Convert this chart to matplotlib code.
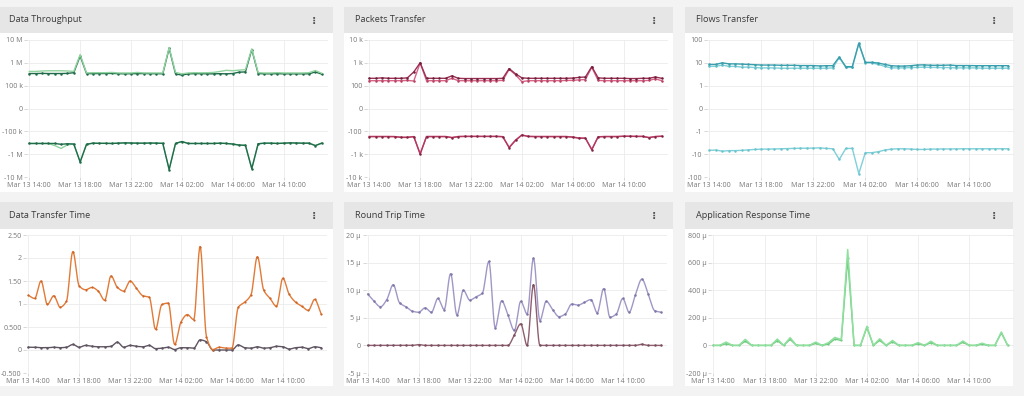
import numpy as np
import matplotlib
matplotlib.use("Agg")
import matplotlib.pyplot as plt
import matplotlib.dates as mdates
from matplotlib.patches import Rectangle
import pandas as pd

# ---------------- data ----------------
times = pd.date_range("2024-03-13 14:00", periods=47, freq="30min")
tick_times = pd.date_range("2024-03-13 14:00", periods=6, freq="4h")
tick_labels = [t.strftime("%b %d %H:%M") for t in tick_times]

panel_titles = ["Data Throughput", "Packets Transfer", "Flows Transfer",
                "Data Transfer Time", "Round Trip Time", "Application Response Time"]

# Data Throughput (bytes/s)
thr_in_light = [420e3, 420e3, 440e3, 450e3, 450e3, 450e3, 440e3, 420e3, 2.3e6, 360e3, 370e3, 370e3,
                370e3, 380e3, 360e3, 360e3, 360e3, 380e3, 360e3, 360e3, 360e3, 360e3, 4.7e6, 380e3,
                330e3, 360e3, 370e3, 365e3, 370e3, 380e3, 420e3, 470e3, 450e3, 480e3, 500e3, 4.1e6,
                370e3, 360e3, 360e3, 370e3, 360e3, 360e3, 360e3, 360e3, 370e3, 460e3, 350e3]
thr_in_dark = [340e3, 340e3, 345e3, 340e3, 340e3, 340e3, 345e3, 370e3, 2.0e6, 340e3, 335e3, 340e3,
               340e3, 345e3, 335e3, 330e3, 335e3, 335e3, 340e3, 335e3, 335e3, 330e3, 4.3e6, 330e3,
               290e3, 330e3, 335e3, 335e3, 330e3, 330e3, 335e3, 330e3, 340e3, 390e3, 400e3, 3.8e6,
               340e3, 330e3, 330e3, 335e3, 330e3, 330e3, 330e3, 330e3, 330e3, 400e3, 320e3]
thr_out_light = [-340e3, -340e3, -340e3, -340e3, -420e3, -560e3, -390e3, -360e3, -2.2e6, -370e3, -330e3, -335e3,
                 -335e3, -340e3, -330e3, -320e3, -325e3, -330e3, -330e3, -325e3, -330e3, -335e3, -4.7e6, -340e3,
                 -280e3, -340e3, -340e3, -340e3, -340e3, -340e3, -330e3, -340e3, -360e3, -400e3, -410e3, -4.3e6,
                 -350e3, -330e3, -330e3, -340e3, -330e3, -320e3, -325e3, -330e3, -330e3, -420e3, -330e3]
thr_out_dark = [-340e3, -340e3, -340e3, -340e3, -340e3, -370e3, -350e3, -360e3, -2.2e6, -370e3, -330e3, -335e3,
                -335e3, -340e3, -330e3, -320e3, -325e3, -330e3, -330e3, -325e3, -330e3, -335e3, -4.7e6, -340e3,
                -280e3, -340e3, -340e3, -340e3, -340e3, -340e3, -330e3, -340e3, -360e3, -400e3, -410e3, -4.3e6,
                -350e3, -330e3, -330e3, -340e3, -330e3, -320e3, -325e3, -330e3, -330e3, -420e3, -330e3]

# Packets Transfer
pkt_in_dark = [210, 210, 220, 210, 210, 210, 220, 400, 1000, 210, 210, 210, 210, 270, 210, 205,
               205, 205, 205, 205, 205, 210, 560, 330, 220, 210, 210, 210, 210, 210, 210, 210,
               215, 230, 240, 680, 220, 210, 210, 210, 210, 205, 205, 210, 210, 240, 210]
pkt_in_light = [165, 165, 165, 165, 165, 165, 170, 160, 1000, 165, 165, 165, 165, 210, 165, 165,
                165, 165, 165, 165, 165, 170, 520, 300, 150, 165, 165, 165, 165, 165, 165, 170,
                170, 180, 185, 640, 170, 165, 165, 165, 165, 165, 165, 165, 170, 200, 165]
pkt_out_dark = [-170, -170, -170, -170, -170, -185, -185, -170, -1000, -170, -170, -170, -170, -190, -170, -168,
                -168, -168, -168, -168, -168, -172, -520, -250, -145, -168, -170, -170, -170, -170, -170, -170,
                -180, -200, -200, -640, -175, -170, -170, -170, -165, -165, -168, -168, -190, -170, -165]
pkt_out_light = [-168, -168, -168, -168, -170, -180, -180, -170, -950, -168, -168, -168, -168, -185, -168, -165,
                 -165, -165, -165, -165, -165, -170, -500, -240, -145, -165, -168, -168, -168, -168, -168, -168,
                 -178, -195, -198, -620, -172, -168, -168, -168, -163, -163, -165, -165, -185, -168, -163]

# Flows Transfer
flw_in_dark = [8.5, 8.5, 10, 9, 9, 8.8, 8.5, 8.3, 8, 8, 8, 7.8, 7.8, 7.8, 7.6, 7.6,
               7.6, 7.3, 7.5, 7.5, 18, 6.8, 6.8, 72, 10.5, 10.5, 9.8, 8.5, 7.5, 7.2, 7.2, 7.5,
               8, 8.2, 7.8, 7.8, 7.8, 8, 7.6, 7.6, 7.6, 7.5, 7.5, 7.5, 7.5, 7.5, 7.5]
flw_in_light = [7, 7, 8, 7, 7, 6.5, 6.5, 6.2, 6, 6, 6, 5.8, 5.8, 5.8, 5.8, 5.8,
                5.8, 5.8, 5.8, 6, 17, 6.3, 6.3, 70, 10, 10, 8.5, 7, 6, 6, 6, 6.2,
                6.3, 6.5, 6.3, 6.3, 6.2, 6.2, 6.0, 6.0, 6, 6, 5.8, 5.8, 5.8, 5.8, 5.8]
flw_out = [-6.8, -6.6, -7.4, -7, -7, -6.8, -6.5, -6.2, -6, -6, -5.9, -5.8, -5.7, -5.6, -5.5, -5.5,
           -5.4, -5.3, -5.6, -5.8, -17, -5.6, -5.6, -71, -8.6, -8.6, -7.8, -6.6, -6.0, -5.8, -5.8, -6.0,
           -6.2, -6.2, -6.0, -6.0, -5.9, -5.9, -5.9, -5.8, -5.8, -5.8, -5.8, -5.8, -5.8, -5.8, -5.8]

# Data Transfer Time (s)
dtt_main = [1.19, 1.12, 1.50, 0.99, 1.18, 0.93, 1.06, 2.14, 1.39, 1.31, 1.36, 1.28, 1.08, 1.61, 1.36, 1.28,
            1.50, 1.34, 1.18, 1.15, 0.45, 0.99, 1.02, 0.12, 0.61, 0.77, 0.66, 2.25, 0.29, 0.01, 0.06, 0.04,
            0.04, 0.93, 1.04, 1.20, 2.03, 1.30, 1.12, 0.95, 1.56, 1.21, 1.04, 0.95, 0.86, 1.10, 0.79]
dtt_base = [0.06, 0.06, 0.05, 0.05, 0.06, 0.05, 0.06, 0.12, 0.06, 0.10, 0.08, 0.07, 0.07, 0.08, 0.17, 0.06,
            0.10, 0.08, 0.07, 0.10, 0.03, 0.04, 0.06, 0.01, 0.05, 0.05, 0.04, 0.22, 0.18, 0.0, 0.0, 0.0,
            0.0, 0.11, 0.05, 0.04, 0.07, 0.04, 0.05, 0.08, 0.07, 0.02, 0.05, 0.06, 0.03, 0.07, 0.05]

# Round Trip Time (µs)
rtt_main = [9.3, 8.0, 7.0, 8.3, 11.0, 7.7, 7.0, 6.2, 6.0, 6.8, 6.0, 8.5, 6.5, 13.0, 5.5, 10.0,
            8.2, 8.8, 9.5, 15.2, 3.2, 8.1, 5.5, 2.7, 8.0, 5.7, 15.8, 4.5, 8.0, 6.5, 5.2, 5.7,
            7.5, 7.3, 7.8, 8.3, 5.9, 10.3, 5.1, 5.7, 8.5, 6.0, 9.2, 12.0, 9.3, 6.3, 6.0]
rtt_base = [0, 0, 0, 0, 0, 0, 0, 0, 0.15, 0, 0, 0, 0, 0, 0, 0,
            0, 0, 0, 0, 0, 0, 0, 1.9, 3.9, 0, 11.0, 0, 0, 0, 0, 0,
            0, 0, 0, 0, 0, 0, 0, 0, 0, 0, 0, 0.2, 0, 0, 0]

# Application Response Time (µs)
art_light = [0, 0, 24, 0, 0, 44, 0, 0, 0, 0, 46, 0, 56, 0, 0, 0,
             24, 0, 20, 58, 42, 695, 0, 0, 138, 0, 48, 0, 36, 0, 0, 0,
             20, 0, 30, 0, 0, 0, 0, 32, 0, 0, 16, 0, 0, 97, 0]
art_dark = [0, 0, 12, 0, 0, 30, 0, 0, 0, 0, 34, 0, 44, 0, 0, 0,
            14, 0, 10, 46, 36, 630, 0, 0, 130, 0, 36, 0, 26, 0, 0, 0,
            12, 0, 20, 0, 0, 0, 0, 22, 0, 0, 8, 0, 0, 90, 0]

# ---------------- layout helpers ----------------
W, H = 1024, 396
fig = plt.figure(figsize=(W / 100, H / 100), dpi=100)
fig.patch.set_facecolor("#f3f3f3")

FONT = ["Open Sans", "DejaVu Sans"]


def frect(x0, y0, x1, y1):
    return [x0 / W, 1 - y1 / H, (x1 - x0) / W, (y1 - y0) / H]


def panel(x0, x1, yh0, yh1, yb1, title):
    fig.add_artist(Rectangle((x0 / W, 1 - yb1 / H), (x1 - x0) / W, (yb1 - yh1) / H,
                             transform=fig.transFigure, facecolor="white", edgecolor="none", zorder=0))
    fig.add_artist(Rectangle((x0 / W, 1 - yh1 / H), (x1 - x0) / W, (yh1 - yh0) / H,
                             transform=fig.transFigure, facecolor="#e6e6e6", edgecolor="none", zorder=0))
    fig.text((x0 + 11) / W, 1 - ((yh0 + yh1) / 2) / H, title, family=FONT, fontsize=6.6,
             color="#3a3a3a", va="center", ha="left")
    fig.text((x1 - 19) / W, 1 - ((yh0 + yh1) / 2 + 0.5) / H, "\u22ee", family=["DejaVu Sans"],
             fontsize=7.5, fontweight="bold", color="#555555", va="center", ha="center")


def smooth(y, n=10):
    y = np.asarray(y, float)
    x = np.arange(len(y), dtype=float)
    d = np.diff(y)
    m = np.zeros_like(y)
    m[0], m[-1] = d[0], d[-1]
    for i in range(1, len(y) - 1):
        if d[i - 1] * d[i] <= 0:
            m[i] = 0.0
        else:
            m[i] = 2.0 / (1.0 / d[i - 1] + 1.0 / d[i])
    xs, ys = [], []
    t = np.linspace(0, 1, n, endpoint=False)
    h00 = 2 * t**3 - 3 * t**2 + 1
    h10 = t**3 - 2 * t**2 + t
    h01 = -2 * t**3 + 3 * t**2
    h11 = t**3 - t**2
    for i in range(len(d)):
        xs.append(x[i] + t)
        ys.append(h00 * y[i] + h10 * m[i] + h01 * y[i + 1] + h11 * m[i + 1])
    xs.append([x[-1]])
    ys.append([y[-1]])
    return np.concatenate(xs), np.concatenate(ys)


tnum = mdates.date2num(times.to_pydatetime())
step = tnum[1] - tnum[0]


def make_axes(dl, dr, yt, yb):
    sp = (dr - dl) / 46.0
    l, r = dl - 2, dr + 6
    ax = fig.add_axes(frect(l, yt, r, yb))
    ax.set_facecolor("none")
    ax.set_xlim(tnum[0] - 2 / sp * step, tnum[-1] + 6 / sp * step)
    for s in ax.spines.values():
        s.set_visible(False)
    ax.set_xticks(mdates.date2num(tick_times.to_pydatetime()))
    ax.set_xticklabels(tick_labels)
    ax.grid(True, color="#ebebeb", linewidth=0.6)
    ax.set_axisbelow(True)
    ax.tick_params(axis="both", length=2.2, width=0.5, color="#c8c8c8", labelsize=5.1,
                   labelcolor="#777777", pad=1.2)
    for lab in ax.get_xticklabels() + ax.get_yticklabels():
        lab.set_family(FONT)
    return ax


def series(ax, y, color, lw=0.9, ms=1.8, mk=True, sm=False, z=2, mcolor=None):
    if sm:
        xs, ys = smooth(y)
        xs = tnum[0] + xs * step
    else:
        xs, ys = tnum, np.asarray(y, float)
    ax.plot(xs, ys, color=color, lw=lw, zorder=z, solid_joinstyle="round")
    if mk:
        ax.plot(tnum, y, "o", ms=ms, color=mcolor or color, mec="none", zorder=z)


def symlog_axis(ax, thresh, labels):
    ax.set_yscale("symlog", linthresh=thresh, linscale=0.9)
    vals = [-100 * thresh, -10 * thresh, -thresh, 0, thresh, 10 * thresh, 100 * thresh]
    ax.set_ylim(vals[0], vals[-1])
    ax.set_yticks(vals)
    ax.set_yticklabels(labels)
    ax.yaxis.set_minor_locator(matplotlib.ticker.NullLocator())
    for lab in ax.get_yticklabels():
        lab.set_family(FONT)


def lin_axis(ax, ticks, labels):
    ax.set_ylim(ticks[0], ticks[-1])
    ax.set_yticks(ticks)
    ax.set_yticklabels(labels)
    for lab in ax.get_yticklabels():
        lab.set_family(FONT)


# ---------------- panels ----------------
cols = [(-2, 333), (344, 673), (685, 1013)]
rows = [(7, 33, 192), (202, 229, 386)]
k = 0
for (yh0, yh1, yb1) in rows:
    for (x0, x1) in cols:
        panel(x0, x1, yh0, yh1, yb1, panel_titles[k])
        k += 1

# 1 Data Throughput
ax = make_axes(29.3, 321.7, 40, 177)
symlog_axis(ax, 1e5, ["-10 M", "-1 M", "-100 k", "0", "100 k", "1 M", "10 M"])
series(ax, thr_in_dark, "#1f6b4a", lw=1.0, z=2)
series(ax, thr_in_light, "#8fd39e", lw=1.0, mk=False, z=3)
series(ax, thr_out_light, "#8fd39e", lw=1.0, mk=False, z=2)
series(ax, thr_out_dark, "#1f6b4a", lw=1.0, z=3)

# 2 Packets Transfer
ax = make_axes(369.3, 661.7, 40, 177)
symlog_axis(ax, 100, ["-10 k", "-1 k", "-100", "0", "100", "1 k", "10 k"])
series(ax, pkt_in_light, "#d6658a", lw=1.0, z=2, mcolor="#b8405f")
series(ax, pkt_in_dark, "#9c2f55", lw=1.0, z=3, mcolor="#6e1f3a")
series(ax, pkt_out_light, "#d6658a", lw=1.0, mk=False, z=2)
series(ax, pkt_out_dark, "#b0385f", lw=1.0, z=3, mcolor="#7e2442")

# 3 Flows Transfer
ax = make_axes(709.3, 1008.3, 40, 177)
symlog_axis(ax, 1, ["-100", "-10", "-1", "0", "1", "10", "100"])
series(ax, flw_in_light, "#7fd0d8", lw=1.0, z=2, mcolor="#5fbcc6")
series(ax, flw_in_dark, "#3a9fac", lw=1.0, z=3)
series(ax, flw_out, "#7fd0d8", lw=1.0, z=2, mcolor="#6cc3cd")

# 4 Data Transfer Time
ax = make_axes(28.3, 321.0, 235, 373)
lin_axis(ax, [-0.5, 0, 0.5, 1, 1.5, 2, 2.5], ["-0.500", "0", "0.500", "1", "1.50", "2", "2.50"])
series(ax, dtt_main, "#e27a36", lw=1.0, ms=1.6, sm=True, z=3, mcolor="#c9652a")
series(ax, dtt_base, "#5f5562", lw=1.0, ms=1.8, sm=True, z=2)

# 5 Round Trip Time
ax = make_axes(367.7, 661.0, 235, 373)
lin_axis(ax, [-5, 0, 5, 10, 15, 20], ["-5 \u00b5", "0", "5 \u00b5", "10 \u00b5", "15 \u00b5", "20 \u00b5"])
series(ax, rtt_main, "#a197c6", lw=1.0, ms=1.8, sm=True, z=3, mcolor="#7f76a6")
series(ax, rtt_base, "#8e5f70", lw=1.0, ms=1.8, sm=True, z=2, mcolor="#7a4e5e")

# 6 Application Response Time
ax = make_axes(713.3, 1007.7, 235, 373)
lin_axis(ax, [-200, 0, 200, 400, 600, 800], ["-200 \u00b5", "0", "200 \u00b5", "400 \u00b5", "600 \u00b5", "800 \u00b5"])
series(ax, art_light, "#8fe09e", lw=1.1, mk=False, z=3)
series(ax, art_dark, "#6cc97c", lw=1.0, ms=1.6, z=2)

fig.savefig("out.png", dpi=100, facecolor=fig.get_facecolor())
